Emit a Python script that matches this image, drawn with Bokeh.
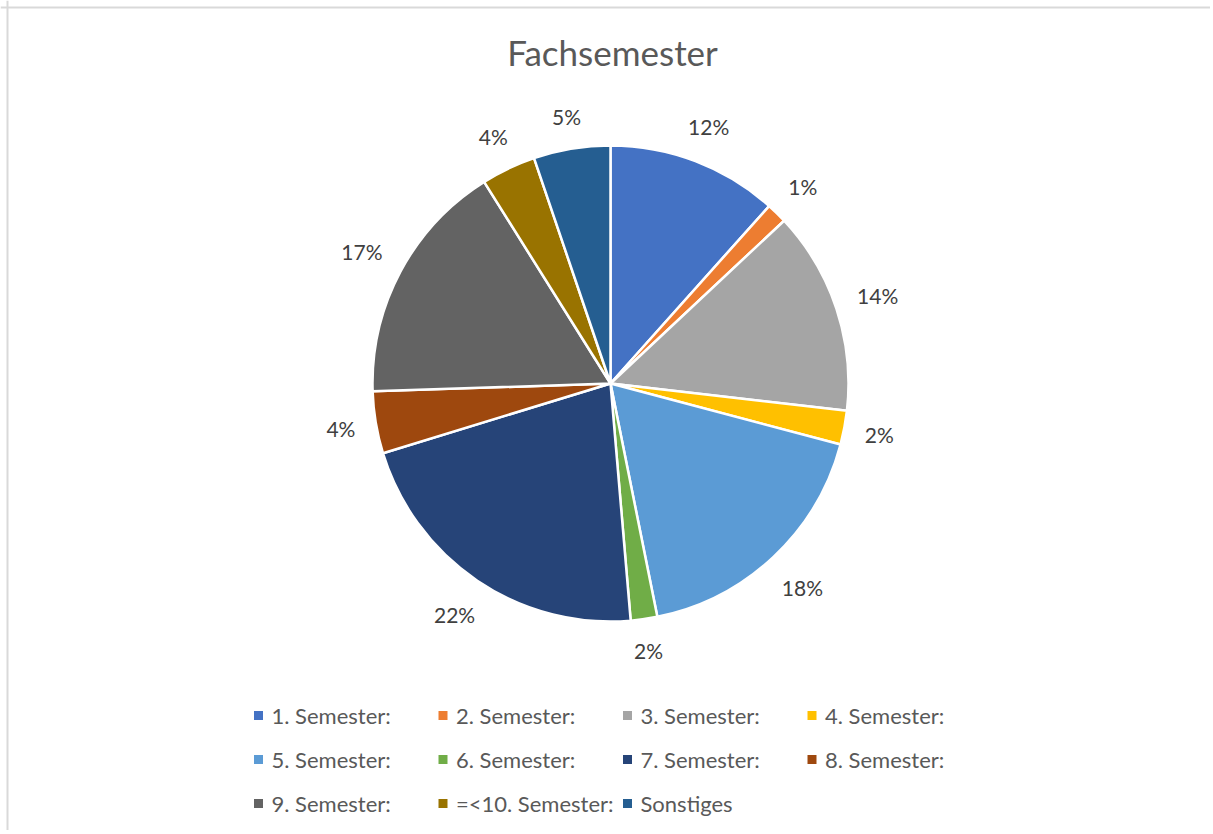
import math
from bokeh.plotting import figure
from bokeh.models import Range1d, Span, ColumnDataSource
from bokeh.core.properties import value
from bokeh.embed import file_html
from bokeh.resources import INLINE

# ---- data ----
categories = ["1. Semester:", "2. Semester:", "3. Semester:", "4. Semester:",
              "5. Semester:", "6. Semester:", "7. Semester:", "8. Semester:",
              "9. Semester:", "=<10. Semester:", "Sonstiges"]
shares = [11.6, 1.4, 13.8, 2.3, 17.7, 1.8, 21.6, 4.2, 16.6, 3.7, 5.2]
colors = ["#4472C4", "#ED7D31", "#A5A5A5", "#FFC000", "#5B9BD5", "#70AD47",
          "#264478", "#9E480E", "#636363", "#997300", "#255E91"]
title_text = "Fachsemester"

# ---- layout ----
W, H = 1210, 830
FONT = "Lato"

def sx(x):  # screen x -> data x
    return x

def sy(y):  # screen y -> data y
    return H - y

p = figure(width=W, height=H, x_range=Range1d(0, W), y_range=Range1d(0, H),
           output_backend="svg", toolbar_location=None, min_border=0,
           x_axis_location=None, y_axis_location=None)
p.grid.visible = False
p.outline_line_color = None
p.background_fill_color = "white"
p.border_fill_color = "white"

# chart frame (left and top edges visible)
p.add_layout(Span(location=sx(7), dimension="height", line_color="#d9d9d9", line_width=2))
p.add_layout(Span(location=sy(7), dimension="width", line_color="#d9d9d9", line_width=2))

# ---- pie ----
cx, cy, R = sx(610), sy(383), 238
total = sum(shares)
starts, ends, mids = [], [], []
acc = 0.0
for v in shares:
    f0 = acc / total
    acc += v
    f1 = acc / total
    starts.append(math.pi / 2 - 2 * math.pi * f0)
    ends.append(math.pi / 2 - 2 * math.pi * f1)
    mids.append((f0 + f1) / 2 * 2 * math.pi)  # clockwise from top

src = ColumnDataSource(dict(start=starts, end=ends, color=colors, cat=categories))
p.wedge(x=cx, y=cy, radius=R, start_angle="start", end_angle="end",
        direction="clock", fill_color="color", line_color="white",
        line_width=2.5, source=src)

# ---- data labels (outside end) ----
lab_fs = 21
lx, ly, lt = [], [], []
for v, th in zip(shares, mids):
    txt = f"{round(v / total * 100)}%"
    hw = 0.5 * len(txt) * 0.7 * lab_fs
    hh = 11
    d = R + 19 + hw * abs(math.sin(th)) + hh * abs(math.cos(th))
    lx.append(cx + d * math.sin(th))
    ly.append(cy + d * math.cos(th))
    lt.append(txt)
p.text(x=lx, y=ly, text=lt, text_font=value(FONT), text_font_size=f"{lab_fs}px",
       text_color="#404040", text_align="center", text_baseline="middle")

# ---- title ----
p.text(x=[sx(612)], y=[sy(51)], text=[title_text], text_font=value(FONT),
       text_font_size="35px", text_color="#595959", text_align="center",
       text_baseline="middle")

# ---- legend (4 columns) ----
ncol = 4
mx, my, tx, ty = [], [], [], []
for i, c in enumerate(categories):
    r, k = divmod(i, ncol)
    mx.append(sx(258 + k * 184.5))
    my.append(sy(715 + r * 44))
    tx.append(sx(271 + k * 184.5))
    ty.append(sy(715 + r * 44))
p.scatter(x=mx, y=my, marker="square", size=9, fill_color=colors, line_color=None)
p.text(x=tx, y=ty, text=categories, text_font=value(FONT), text_font_size="22px",
       text_color="#595959", text_align="left", text_baseline="middle")

open("out.html", "w").write(file_html(p, INLINE))
